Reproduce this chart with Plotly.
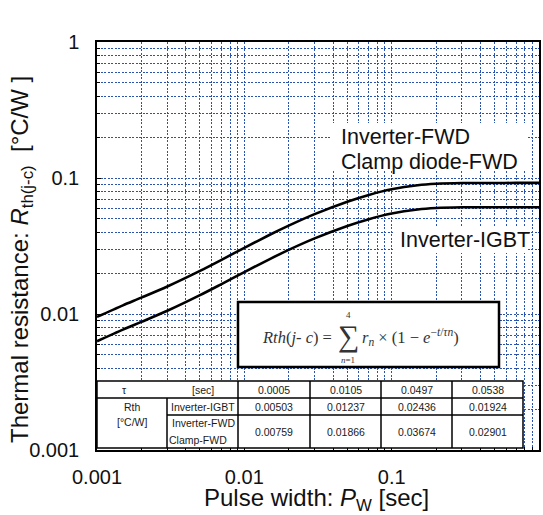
import plotly.graph_objects as go

# ---- data ----
pulse_width = [0.001, 0.0015, 0.002, 0.003, 0.005, 0.007, 0.01, 0.015, 0.02, 0.03,
               0.05, 0.07, 0.1, 0.15, 0.2, 0.3, 0.5, 0.7, 1.0]
rth_igbt = [0.00631, 0.00768, 0.00875, 0.01056, 0.01376, 0.01660, 0.02033, 0.02546,
            0.02960, 0.03595, 0.04439, 0.04979, 0.05474, 0.05863, 0.06010, 0.06087,
            0.06099, 0.06100, 0.06100]
rth_fwd = [0.00952, 0.01158, 0.01319, 0.01593, 0.02074, 0.02503, 0.03066, 0.03840,
           0.04464, 0.05422, 0.06694, 0.07508, 0.08255, 0.08841, 0.09063, 0.09179,
           0.09198, 0.09200, 0.09200]

tau_values = ["0.0005", "0.0105", "0.0497", "0.0538"]
r_igbt_values = ["0.00503", "0.01237", "0.02436", "0.01924"]
r_fwd_values = ["0.00759", "0.01866", "0.03674", "0.02901"]

major_vals = [0.001, 0.01, 0.1, 1]
major_text = ["0.001", "0.01", "0.1", "1"]
minor_vals = [m * d for d in (0.001, 0.01, 0.1) for m in range(2, 10)]

# ---- layout geometry (pixels) ----
W, H = 543, 515
L, R, T, B = 97, 539, 42, 450
PW, PH = R - L, B - T


def px(x):
    return (x - L) / PW


def py(y):
    return (B - y) / PH


GRID = "#2a52b0"
FONT = "Liberation Sans, Arial, sans-serif"

fig = go.Figure()
for yv in (rth_fwd, rth_igbt):
    fig.add_trace(go.Scatter(x=pulse_width, y=yv, mode="lines",
                             line=dict(color="black", width=2.6, shape="spline", smoothing=0.8),
                             showlegend=False, hoverinfo="skip"))

axis_common = dict(
    type="log", range=[-3, 0], tickvals=major_vals, ticktext=major_text,
    showgrid=True, gridcolor=GRID, griddash="2px,1.5px", gridwidth=1,
    ticks="inside", ticklen=4, tickcolor="black", tickwidth=1,
    showline=True, linecolor="black", linewidth=1.5, mirror=True,
    tickfont=dict(family=FONT, size=20, color="#111"),
    minor=dict(tickvals=minor_vals, showgrid=True, gridcolor=GRID, griddash="2px,1.5px",
               gridwidth=1, ticks="inside", ticklen=3, tickcolor="black"),
    zeroline=False, automargin=False,
)
fig.update_xaxes(**axis_common, ticklabelstandoff=8)
fig.update_yaxes(**axis_common, ticklabelstandoff=12)

shapes = []
annos = []

# curve labels with white background
shapes.append(dict(type="rect", xref="paper", yref="paper", x0=px(332), x1=px(528), y0=py(171), y1=py(123),
                   fillcolor="white", line=dict(width=0), layer="above"))
shapes.append(dict(type="rect", xref="paper", yref="paper", x0=px(393), x1=px(528), y0=py(253), y1=py(226),
                   fillcolor="white", line=dict(width=0), layer="above"))
LF = dict(family=FONT, size=21.5, color="#111")
for ypos, txt, xl in ((137, "Inverter-FWD", 339), (162, "Clamp diode-FWD", 339), (240, "Inverter-IGBT", 398)):
    annos.append(dict(x=px(xl), y=py(ypos), xref="paper", yref="paper", xanchor="left", yanchor="middle",
                      text=txt, showarrow=False, font=LF))

# formula box
shapes.append(dict(type="rect", xref="paper", yref="paper", x0=px(238), x1=px(499), y0=py(367), y1=py(302),
                   fillcolor="white", line=dict(color="black", width=2.5), layer="above"))
SERIF = "Liberation Serif, DejaVu Serif, serif"
fcol = "#333"
annos.append(dict(x=px(334), y=py(337), xref="paper", yref="paper", xanchor="right", yanchor="middle",
                  text="<i>Rth</i>(<i>j</i>- <i>c</i>) =", showarrow=False,
                  font=dict(family=SERIF, size=16.5, color=fcol)))
annos.append(dict(x=px(348), y=py(336), xref="paper", yref="paper", xanchor="center", yanchor="middle",
                  text="∑", showarrow=False, font=dict(family=SERIF, size=30, color=fcol)))
annos.append(dict(x=px(348), y=py(315), xref="paper", yref="paper", xanchor="center", yanchor="middle",
                  text="4", showarrow=False, font=dict(family=SERIF, size=9, color=fcol)))
annos.append(dict(x=px(348), y=py(360), xref="paper", yref="paper", xanchor="center", yanchor="middle",
                  text="<i>n</i>=1", showarrow=False, font=dict(family=SERIF, size=9, color=fcol)))
annos.append(dict(x=px(360), y=py(337), xref="paper", yref="paper", xanchor="left", yanchor="middle",
                  text="<i>r</i><sub><i>n</i></sub> × (1 − <i>e</i><sup>−<i>t</i>/<i>τn</i></sup>)", showarrow=False,
                  font=dict(family=SERIF, size=16.5, color=fcol)))

# table
tx = [97, 167, 238, 310, 381, 452, 523]
ty = [381, 398, 415, 448]
shapes.append(dict(type="rect", xref="paper", yref="paper", x0=px(tx[0]), x1=px(tx[-1]), y0=py(ty[-1]), y1=py(ty[0]),
                   fillcolor="white", line=dict(color="black", width=1.5), layer="above"))
lw = dict(color="black", width=1.5)
shapes.append(dict(type="line", xref="paper", yref="paper", x0=px(tx[0]), x1=px(tx[-1]), y0=py(ty[1]), y1=py(ty[1]), line=lw, layer="above"))
shapes.append(dict(type="line", xref="paper", yref="paper", x0=px(tx[1]), x1=px(tx[-1]), y0=py(ty[2]), y1=py(ty[2]), line=lw, layer="above"))
shapes.append(dict(type="line", xref="paper", yref="paper", x0=px(tx[1]), x1=px(tx[1]), y0=py(ty[1]), y1=py(ty[3]), line=lw, layer="above"))
for xv in tx[2:-1]:
    shapes.append(dict(type="line", xref="paper", yref="paper", x0=px(xv), x1=px(xv), y0=py(ty[0]), y1=py(ty[3]), line=lw, layer="above"))

TF = dict(family=FONT, size=10.5, color="#1a1a1a")


def cell(x, y, text, anchor="center"):
    annos.append(dict(x=px(x), y=py(y), xref="paper", yref="paper", xanchor=anchor, yanchor="middle",
                      text=text, showarrow=False, font=TF))


cell(124, 390, "τ")
cell(203, 390, "[sec]")
cell(132, 407, "Rth")
cell(132, 422, "[°C/W]")
cell(203, 407, "Inverter-IGBT")
cell(203, 423, "Inverter-FWD")
cell(198, 440, "Clamp-FWD")
centers = [(tx[i] + tx[i + 1]) / 2 for i in range(2, 6)]
for c, a, b_, d in zip(centers, tau_values, r_igbt_values, r_fwd_values):
    cell(c, 390, a)
    cell(c, 407, b_)
    cell(c, 432, d)

# axis titles
annos.append(dict(x=px(316), y=py(499), xref="paper", yref="paper", xanchor="center", yanchor="middle",
                  text="Pulse width: <i>P</i><sub>W</sub> [sec]", showarrow=False,
                  font=dict(family=FONT, size=24, color="#111")))
annos.append(dict(x=px(21), y=py(260), xref="paper", yref="paper", xanchor="center", yanchor="middle",
                  text="Thermal resistance: <i>R</i><sub>th(j-c)</sub>&nbsp;&nbsp;[°C/W ]", showarrow=False,
                  textangle=-90, font=dict(family=FONT, size=24, color="#111")))

fig.update_layout(
    width=W, height=H, margin=dict(l=L, r=W - R, t=T, b=H - B, autoexpand=False),
    paper_bgcolor="white", plot_bgcolor="white",
    shapes=shapes, annotations=annos, showlegend=False,
)

fig.write_html("out.html", config={"displayModeBar": False},
               post_script="document.body.style.margin='0';document.body.style.padding='0';")
